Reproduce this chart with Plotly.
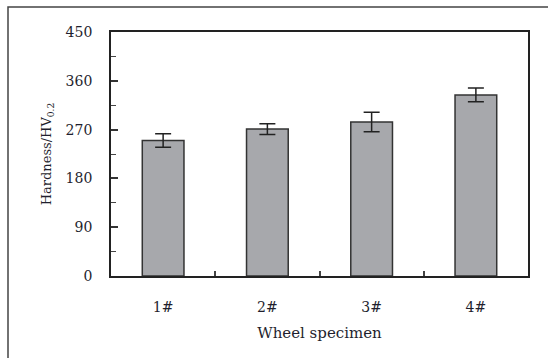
import plotly.graph_objects as go

categories = ["1#", "2#", "3#", "4#"]
hardness = [250, 271, 284, 334]
errors = [12.5, 10, 18, 12.5]
y_ticks = [0, 90, 180, 270, 360, 450]

W, H = 548, 358
L, R, T, B = 111, 528, 32, 276

fig = go.Figure()
fig.add_trace(go.Bar(
    x=categories, y=hardness, width=0.4,
    marker=dict(color="#a7a8ac", line=dict(color="#333333", width=1.5)),
    error_y=dict(type="data", array=errors, visible=True, color="#222222", thickness=1.5, width=8),
))

def px_x(p):
    return (p - L) / (R - L)

def px_y(q):
    return (B - q) / (B - T)

fig.add_shape(type="rect", xref="paper", yref="paper",
              x0=px_x(8), x1=px_x(620), y0=px_y(420), y1=px_y(7),
              line=dict(color="#444444", width=1.5), fillcolor="rgba(0,0,0,0)", layer="below")

font = dict(family="DejaVu Serif, Liberation Serif, serif", size=14, color="#1f1f2e")
fig.update_layout(
    width=W, height=H,
    margin=dict(l=L, r=W - R, t=T, b=H - B, pad=0),
    paper_bgcolor="white", plot_bgcolor="white",
    showlegend=False, font=font,
    bargap=0.6,
)
fig.update_xaxes(
    showline=True, linecolor="#222222", linewidth=1.8, mirror=True,
    ticks="inside", ticklen=5, tickwidth=1.5, tickcolor="#444444", tickson="boundaries",
    ticklabelstandoff=17, tickfont=dict(size=14),
    title=dict(text="Wheel specimen", font=dict(size=15), standoff=14),
    showgrid=False, zeroline=False,
)
fig.update_yaxes(
    range=[0, 450], tickvals=y_ticks,
    showline=True, linecolor="#222222", linewidth=1.8, mirror=True,
    ticks="inside", ticklen=7, tickwidth=1.5, tickcolor="#333333",
    minor=dict(dtick=45, tick0=0, ticks="inside", ticklen=5, tickwidth=1.2, tickcolor="#444444", showgrid=False),
    ticklabelstandoff=14, tickfont=dict(size=14),
    title=dict(text="Hardness/HV<sub>0.2</sub>", font=dict(size=13), standoff=11),
    showgrid=False, zeroline=False,
)
fig.write_html("out.html", config={"displayModeBar": False},
               post_script="document.body.style.margin='0';")
